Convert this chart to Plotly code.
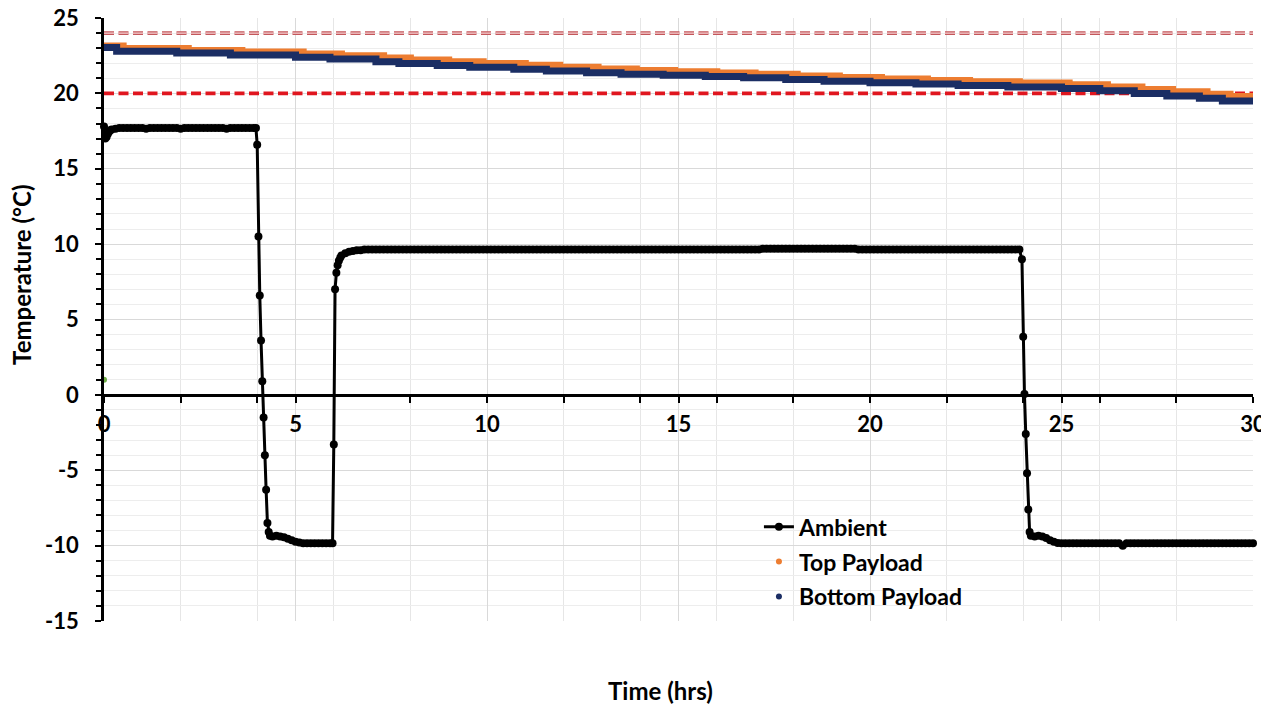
import plotly.graph_objects as go

# ---------------- data ----------------
amb_t = [
    0.0, 0.033, 0.067, 0.1, 0.133, 0.167, 0.2, 0.3, 0.4, 0.5,
    0.6, 0.7, 0.8, 0.9, 1.0, 1.1, 1.2, 1.3, 1.4, 1.5,
    1.6, 1.7, 1.8, 1.9, 2.0, 2.1, 2.2, 2.3, 2.4, 2.5,
    2.6, 2.7, 2.8, 2.9, 3.0, 3.1, 3.2, 3.3, 3.4, 3.5,
    3.6, 3.7, 3.8, 3.9, 3.967,
    4.0, 4.033, 4.067, 4.1, 4.133, 4.167, 4.2, 4.233, 4.267, 4.3,
    4.333, 4.4, 4.5, 4.6, 4.7, 4.8, 4.9, 5.0, 5.1, 5.2,
    5.3, 5.4, 5.5, 5.6, 5.7, 5.8, 5.9, 5.967,
    6.0, 6.033, 6.067, 6.1, 6.133, 6.167, 6.2, 6.3, 6.4, 6.5,
    6.6, 6.7, 6.8, 6.9,
    7.0, 7.1, 7.2, 7.3, 7.4, 7.5, 7.6, 7.7, 7.8, 7.9,
    8.0, 8.1, 8.2, 8.3, 8.4, 8.5, 8.6, 8.7, 8.8, 8.9,
    9.0, 9.1, 9.2, 9.3, 9.4, 9.5, 9.6, 9.7, 9.8, 9.9,
    10.0, 10.1, 10.2, 10.3, 10.4, 10.5, 10.6, 10.7, 10.8, 10.9,
    11.0, 11.1, 11.2, 11.3, 11.4, 11.5, 11.6, 11.7, 11.8, 11.9,
    12.0, 12.1, 12.2, 12.3, 12.4, 12.5, 12.6, 12.7, 12.8, 12.9,
    13.0, 13.1, 13.2, 13.3, 13.4, 13.5, 13.6, 13.7, 13.8, 13.9,
    14.0, 14.1, 14.2, 14.3, 14.4, 14.5, 14.6, 14.7, 14.8, 14.9,
    15.0, 15.1, 15.2, 15.3, 15.4, 15.5, 15.6, 15.7, 15.8, 15.9,
    16.0, 16.1, 16.2, 16.3, 16.4, 16.5, 16.6, 16.7, 16.8, 16.9,
    17.0, 17.1, 17.2, 17.3, 17.4, 17.5, 17.6, 17.7, 17.8, 17.9,
    18.0, 18.1, 18.2, 18.3, 18.4, 18.5, 18.6, 18.7, 18.8, 18.9,
    19.0, 19.1, 19.2, 19.3, 19.4, 19.5, 19.6, 19.7, 19.8, 19.9,
    20.0, 20.1, 20.2, 20.3, 20.4, 20.5, 20.6, 20.7, 20.8, 20.9,
    21.0, 21.1, 21.2, 21.3, 21.4, 21.5, 21.6, 21.7, 21.8, 21.9,
    22.0, 22.1, 22.2, 22.3, 22.4, 22.5, 22.6, 22.7, 22.8, 22.9,
    23.0, 23.1, 23.2, 23.3, 23.4, 23.5, 23.6, 23.7, 23.8, 23.9,
    23.967, 24.0, 24.033, 24.067, 24.1, 24.133, 24.167, 24.2, 24.3, 24.4,
    24.5, 24.6, 24.7, 24.8, 24.9,
    25.0, 25.1, 25.2, 25.3, 25.4, 25.5, 25.6, 25.7, 25.8, 25.9,
    26.0, 26.1, 26.2, 26.3, 26.4, 26.5, 26.6, 26.7, 26.8, 26.9,
    27.0, 27.1, 27.2, 27.3, 27.4, 27.5, 27.6, 27.7, 27.8, 27.9,
    28.0, 28.1, 28.2, 28.3, 28.4, 28.5, 28.6, 28.7, 28.8, 28.9,
    29.0, 29.1, 29.2, 29.3, 29.4, 29.5, 29.6, 29.7, 29.8, 29.9,
    30.0,
]
amb_v = [
    17.8, 17.0, 17.1, 17.3, 17.45, 17.55, 17.6, 17.65, 17.7, 17.7,
    17.7, 17.7, 17.7, 17.7, 17.7, 17.65, 17.7, 17.7, 17.7, 17.7,
    17.7, 17.7, 17.7, 17.7, 17.65, 17.7, 17.7, 17.7, 17.7, 17.7,
    17.7, 17.7, 17.7, 17.7, 17.7, 17.7, 17.65, 17.7, 17.7, 17.7,
    17.7, 17.7, 17.7, 17.7, 17.7,
    16.6, 10.5, 6.6, 3.6, 0.9, -1.5, -4.0, -6.3, -8.5, -9.1,
    -9.35, -9.4, -9.35, -9.4, -9.45, -9.55, -9.65, -9.75, -9.8, -9.85,
    -9.85, -9.85, -9.85, -9.85, -9.85, -9.85, -9.85, -9.85,
    -3.3, 7.0, 8.1, 8.6, 8.9, 9.1, 9.25, 9.4, 9.5, 9.55,
    9.6, 9.6, 9.65, 9.65,
    9.65, 9.65, 9.65, 9.65, 9.65, 9.65, 9.65, 9.65, 9.65, 9.65,
    9.65, 9.65, 9.65, 9.65, 9.65, 9.65, 9.65, 9.65, 9.65, 9.65,
    9.65, 9.65, 9.65, 9.65, 9.65, 9.65, 9.65, 9.65, 9.65, 9.65,
    9.65, 9.65, 9.65, 9.65, 9.65, 9.65, 9.65, 9.65, 9.65, 9.65,
    9.65, 9.65, 9.65, 9.65, 9.65, 9.65, 9.65, 9.65, 9.65, 9.65,
    9.65, 9.65, 9.65, 9.65, 9.65, 9.65, 9.65, 9.65, 9.65, 9.65,
    9.65, 9.65, 9.65, 9.65, 9.65, 9.65, 9.65, 9.65, 9.65, 9.65,
    9.65, 9.65, 9.65, 9.65, 9.65, 9.65, 9.65, 9.65, 9.65, 9.65,
    9.65, 9.65, 9.65, 9.65, 9.65, 9.65, 9.65, 9.65, 9.65, 9.65,
    9.65, 9.65, 9.65, 9.65, 9.65, 9.65, 9.65, 9.65, 9.65, 9.65,
    9.65, 9.65, 9.7, 9.7, 9.7, 9.7, 9.7, 9.7, 9.7, 9.7,
    9.7, 9.7, 9.7, 9.7, 9.7, 9.7, 9.7, 9.7, 9.7, 9.7,
    9.7, 9.7, 9.7, 9.7, 9.7, 9.7, 9.7, 9.65, 9.65, 9.65,
    9.65, 9.65, 9.65, 9.65, 9.65, 9.65, 9.65, 9.65, 9.65, 9.65,
    9.65, 9.65, 9.65, 9.65, 9.65, 9.65, 9.65, 9.65, 9.65, 9.65,
    9.65, 9.65, 9.65, 9.65, 9.65, 9.65, 9.65, 9.65, 9.65, 9.65,
    9.65, 9.65, 9.65, 9.65, 9.65, 9.65, 9.65, 9.65, 9.65, 9.65,
    9.0, 3.85, 0.05, -2.6, -5.2, -7.6, -9.1, -9.35, -9.4, -9.35,
    -9.4, -9.5, -9.65, -9.75, -9.82,
    -9.85, -9.85, -9.85, -9.85, -9.85, -9.85, -9.85, -9.85, -9.85, -9.85,
    -9.85, -9.85, -9.85, -9.85, -9.85, -9.85, -10.0, -9.85, -9.85, -9.85,
    -9.85, -9.85, -9.85, -9.85, -9.85, -9.85, -9.85, -9.85, -9.85, -9.85,
    -9.85, -9.85, -9.85, -9.85, -9.85, -9.85, -9.85, -9.85, -9.85, -9.85,
    -9.85, -9.85, -9.85, -9.85, -9.85, -9.85, -9.85, -9.85, -9.85, -9.85,
    -9.85,
]
assert len(amb_t) == len(amb_v)

top_t = [0.0, 0.5, 2.2, 3.6, 5.2, 6.2, 7.3, 8.0, 9.0, 9.9,
         11.0, 11.9, 12.9, 13.9, 14.9, 16.0, 17.0, 18.1, 19.2, 20.3,
         21.5, 22.6, 23.9, 25.2, 26.2, 27.1, 27.9, 28.8, 29.4, 30.0]
top_v = [23.15, 22.98, 22.85, 22.75, 22.62, 22.5, 22.35, 22.22, 22.1, 21.98,
         21.86, 21.74, 21.62, 21.52, 21.43, 21.35, 21.27, 21.16, 21.05, 20.95,
         20.86, 20.77, 20.68, 20.58, 20.42, 20.26, 20.1, 19.95, 19.8, 19.8]

bot_t = [0.0, 0.33, 1.9, 3.3, 5.0, 5.9, 7.1, 7.7, 8.7, 9.55,
         10.7, 11.55, 12.6, 13.5, 14.6, 15.7, 16.7, 17.8, 18.8, 20.0,
         21.2, 22.3, 23.6, 25.0, 26.0, 26.9, 27.75, 28.6, 29.2, 30.0]
bot_v = [23.05, 22.8, 22.68, 22.55, 22.4, 22.28, 22.1, 21.98, 21.85, 21.73,
         21.6, 21.48, 21.37, 21.27, 21.2, 21.12, 21.04, 20.92, 20.8, 20.7,
         20.62, 20.52, 20.43, 20.33, 20.17, 20.0, 19.82, 19.67, 19.5, 19.5]

start_t = [0.0]
start_v = [1.0]

limit_span = [0, 30]
limit_hi = [24, 24]
limit_lo = [20, 20]

y_ticks = [-15, -10, -5, 0, 5, 10, 15, 20, 25]
y_tick_labels = ["-15", "-10", "-5", "0", "5", "10", "15", "20", "25"]

# ---------------- figure ----------------
FONT = "Lato"
DASH = "10px,4.5px"

fig = go.Figure()

fig.add_trace(go.Scatter(x=limit_span, y=limit_hi, mode="lines",
                         line=dict(color="#C4575B", width=3.8, dash=DASH),
                         showlegend=False, hoverinfo="skip"))
fig.add_trace(go.Scatter(x=limit_span, y=limit_hi, mode="lines",
                         line=dict(color="#F5D2D4", width=1.4, dash=DASH),
                         showlegend=False, hoverinfo="skip"))
fig.add_trace(go.Scatter(x=limit_span, y=limit_lo, mode="lines",
                         line=dict(color="#E0161F", width=3.6, dash=DASH),
                         showlegend=False, hoverinfo="skip"))

fig.add_trace(go.Scatter(x=amb_t, y=amb_v, mode="lines+markers", name="Ambient",
                         legendgroup="a",
                         line=dict(color="black", width=3),
                         marker=dict(size=8, color="black"),
                         cliponaxis=False))

fig.add_trace(go.Scatter(x=top_t, y=top_v, mode="lines", legendgroup="t",
                         line=dict(color="#ED7D31", width=7, shape="hv"),
                         showlegend=False))
fig.add_trace(go.Scatter(x=[None], y=[None], mode="markers", name="Top Payload",
                         legendgroup="t", marker=dict(size=6, color="#ED7D31")))

fig.add_trace(go.Scatter(x=bot_t, y=bot_v, mode="lines", legendgroup="b",
                         line=dict(color="#1B2E64", width=7, shape="hv"),
                         showlegend=False))
fig.add_trace(go.Scatter(x=[None], y=[None], mode="markers", name="Bottom Payload",
                         legendgroup="b", marker=dict(size=6, color="#1B2E64")))

fig.add_trace(go.Scatter(x=start_t, y=start_v, mode="markers",
                         marker=dict(size=6, color="#70AD47"),
                         showlegend=False, cliponaxis=False))

tickfont = dict(family=FONT, size=22, color="black", weight="bold")

# The page body adds an 8px offset, so the figure is 8px smaller on each side.
fig.update_layout(
    width=1261, height=700,
    margin=dict(l=96, r=16, t=10, b=87, autoexpand=False),
    paper_bgcolor="white", plot_bgcolor="white",
    showlegend=True,
    legend=dict(x=0.57, y=0.192, xanchor="left", yanchor="top",
                font=dict(family=FONT, size=23, color="black", weight="bold"),
                traceorder="grouped", tracegroupgap=2,
                bgcolor="rgba(0,0,0,0)"),
    xaxis=dict(range=[0, 30], dtick=5, tick0=0, anchor="free", position=0.375,
               automargin=False, ticklabeloverflow="allow",
               showgrid=True, gridcolor="#D9D9D9", gridwidth=1,
               minor=dict(dtick=2, tick0=0, showgrid=True, gridcolor="#E6E6E6",
                          ticks="outside", ticklen=6, tickcolor="black", tickwidth=1.5),
               ticks="outside", ticklen=6, tickwidth=2, tickcolor="black",
               showline=True, linecolor="black", linewidth=2.5, zeroline=False,
               tickfont=tickfont, ticklabelstandoff=3),
    yaxis=dict(range=[-15, 25], tickvals=y_ticks, ticktext=y_tick_labels,
               automargin=False, ticklabeloverflow="allow",
               showgrid=True, gridcolor="#D9D9D9", gridwidth=1,
               minor=dict(dtick=1, tick0=0, showgrid=True, gridcolor="#EDEDED",
                          ticks="outside", ticklen=5, tickcolor="black", tickwidth=1.5),
               ticks="outside", ticklen=6, tickwidth=2, tickcolor="black",
               showline=True, linecolor="black", linewidth=2.5, zeroline=False,
               tickfont=tickfont, ticklabelstandoff=12),
    annotations=[
        dict(text="Time (hrs)", xref="paper", yref="paper", x=0.484, y=0,
             yshift=-69, showarrow=False, xanchor="center", yanchor="middle",
             font=dict(family=FONT, size=24, color="black", weight="bold")),
        dict(text="Temperature (°C)", xref="paper", yref="paper", x=0, y=0.574,
             xshift=-82, showarrow=False, textangle=-90, xanchor="center", yanchor="middle",
             font=dict(family=FONT, size=24, color="black", weight="bold")),
    ],
)

fig.write_html("out.html")
